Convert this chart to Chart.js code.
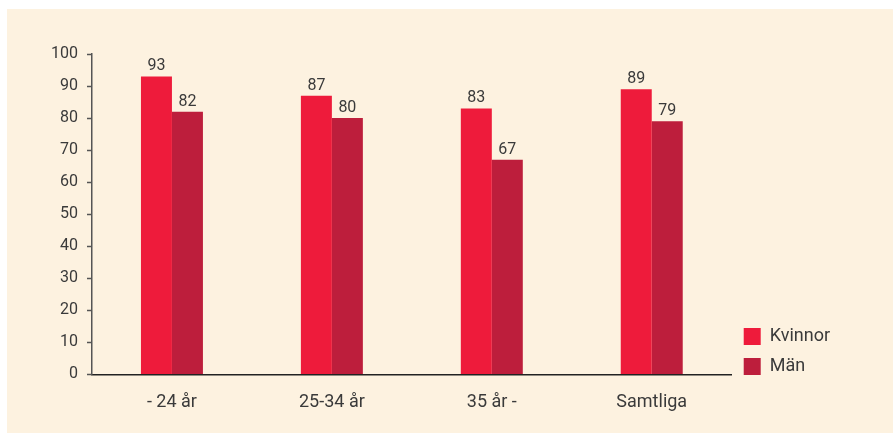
<!DOCTYPE html>
<html>
<head>
<meta charset="utf-8">
<script src="https://cdn.jsdelivr.net/npm/chart.js@4"></script>
<style>
  html, body { margin: 0; padding: 0; background: #fff; }
  #wrap { position: absolute; left: 7px; top: 9px; width: 886px; height: 424px; background: #fdf2e0; }
</style>
</head>
<body>
<div id="wrap"><canvas id="myChart" width="886" height="424"></canvas></div>
<script>
// values
var categories = ["- 24 år", "25-34 år", "35 år -", "Samtliga"];
var kvinnor = [93, 87, 83, 89];
var man = [82, 80, 67, 79];
var yTicks = [0, 10, 20, 30, 40, 50, 60, 70, 80, 90, 100];

var textColor = '#3a3a3a';
var fontFamily = 'Roboto, "DejaVu Sans", sans-serif';

// draws the value above each bar
var valueLabels = {
    id: 'valueLabels',
    afterDatasetsDraw: function (chart) {
        var ctx = chart.ctx;
        ctx.save();
        ctx.font = '16px ' + fontFamily;
        ctx.fillStyle = textColor;
        ctx.textAlign = 'center';
        ctx.textBaseline = 'bottom';
        chart.data.datasets.forEach(function (ds, i) {
            chart.getDatasetMeta(i).data.forEach(function (bar, j) {
                ctx.fillText(ds.data[j], bar.x, bar.y - 2);
            });
        });
        ctx.restore();
    }
};

// nudges the legend down a little, so it sits by the x axis like the original
var legendShift = {
    id: 'legendShift',
    afterLayout: function (chart) {
        if (chart.legend) {
            chart.legend.top += 13;
            chart.legend.bottom += 13;
        }
    }
};

function renderChart() {
    var ctx = document.getElementById("myChart").getContext('2d');
    new Chart(ctx, {
        type: 'bar',
        data: {
            labels: categories,
            datasets: [{
                label: 'Kvinnor',
                data: kvinnor,
                backgroundColor: '#ee1b3b',
            }, {
                label: 'Män',
                data: man,
                backgroundColor: '#bd1e3c',
            }]
        },
        options: {
            responsive: false,
            animation: false,
            layout: { padding: { top: 45, right: 53, bottom: 3, left: 35 } },
            datasets: { bar: { barPercentage: 1, categoryPercentage: 0.3875 } },
            scales: {
                x: {
                    grid: { display: false, drawTicks: false },
                    border: { color: '#222', width: 1.5 },
                    ticks: { color: textColor, font: { family: fontFamily, size: 18 }, padding: 17 }
                },
                y: {
                    min: 0, max: 100,
                    afterBuildTicks: function (axis) {
                        axis.ticks = yTicks.map(function (v) { return { value: v }; });
                    },
                    grid: { drawOnChartArea: false, tickLength: 5, color: '#555', tickWidth: 1.5 },
                    border: { color: '#555', width: 1.5 },
                    ticks: { color: textColor, font: { family: fontFamily, size: 16 }, padding: 9 }
                }
            },
            plugins: {
                tooltip: { enabled: false },
                legend: {
                    position: 'right',
                    align: 'end',
                    fullSize: false,
                    labels: {
                        color: textColor,
                        font: { family: fontFamily, size: 18 },
                        boxWidth: 17,
                        boxHeight: 17,
                        padding: 12
                    }
                }
            }
        },
        plugins: [valueLabels, legendShift]
    });
}

renderChart();
</script>
</body>
</html>
